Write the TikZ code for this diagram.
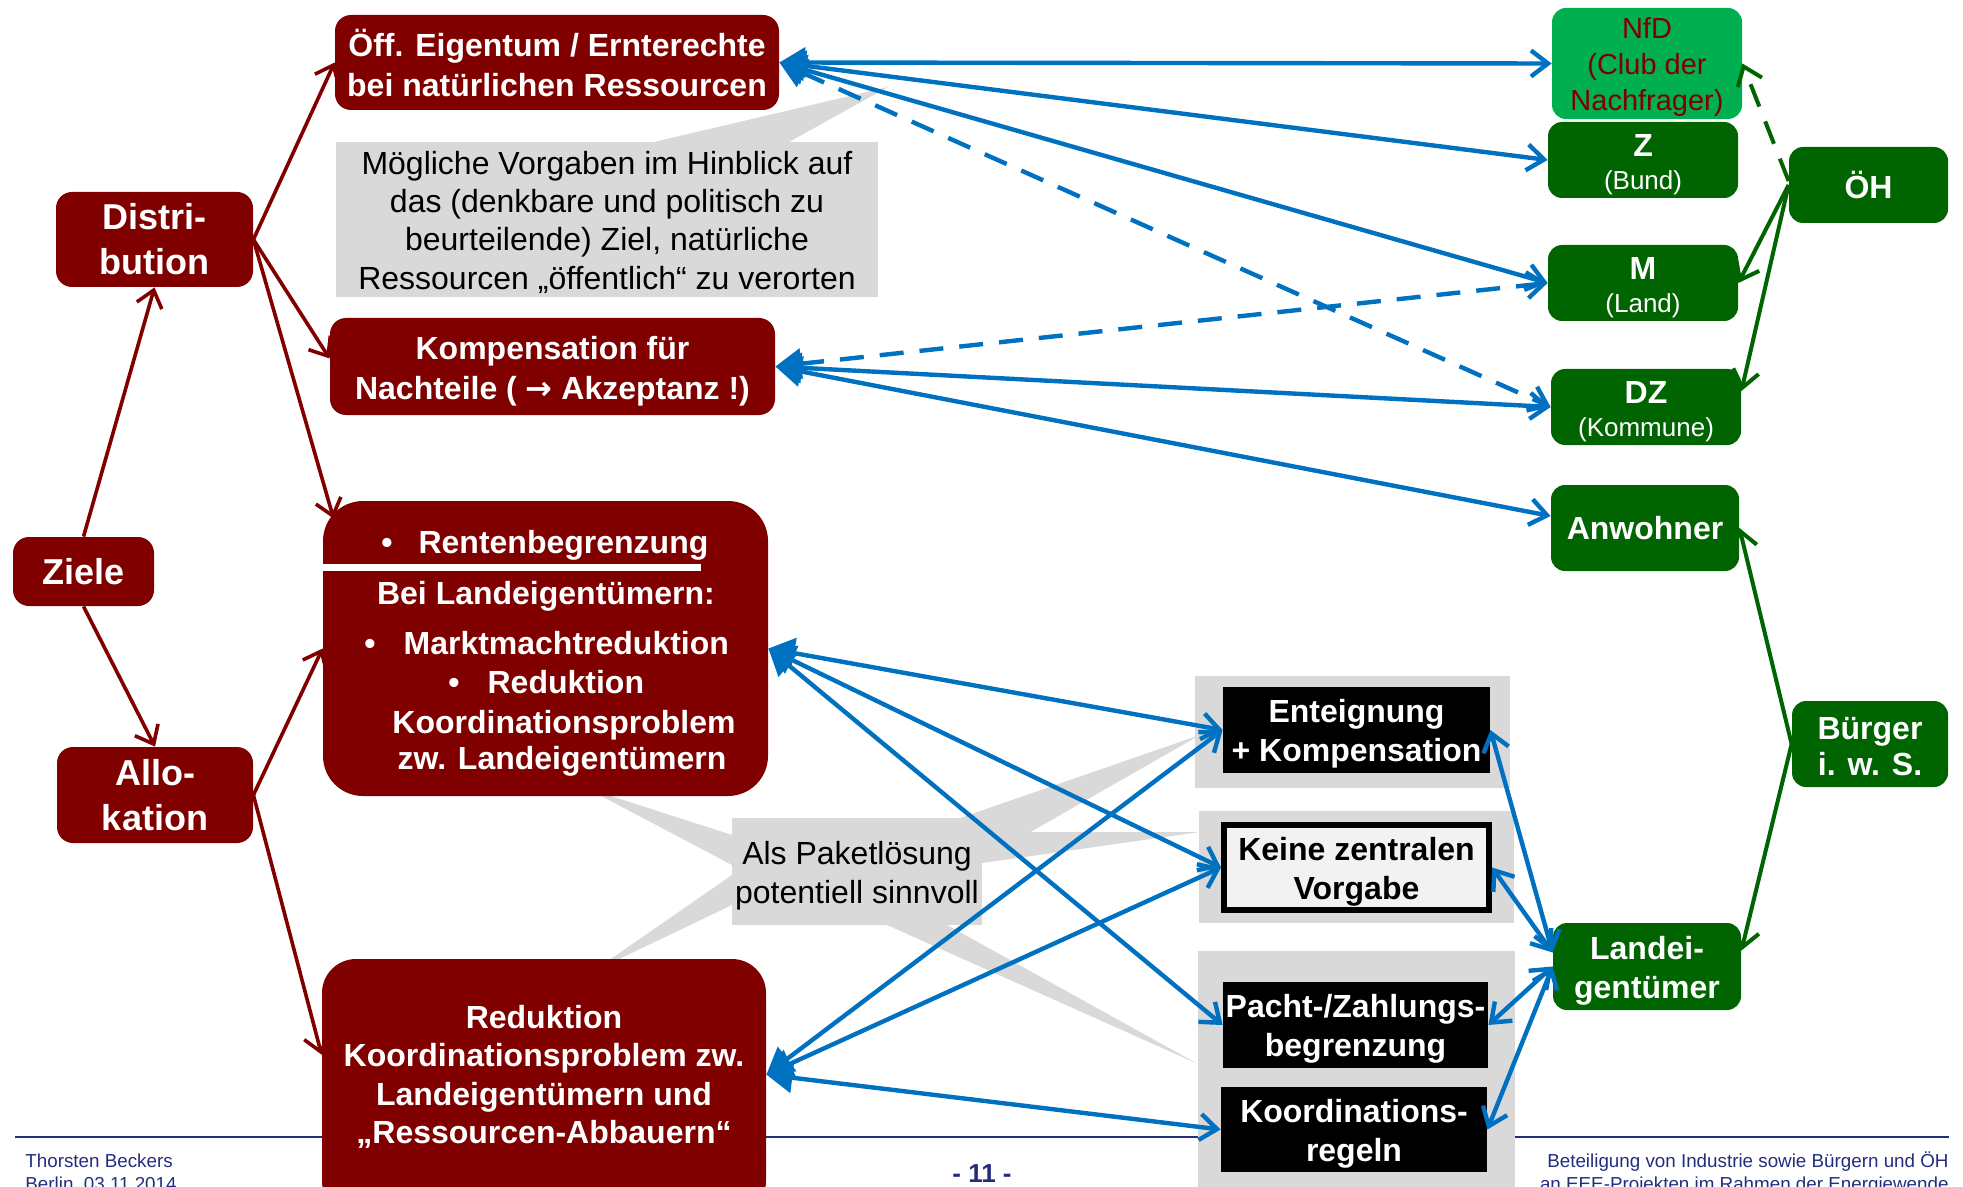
\documentclass[tikz,border=0pt]{standalone}
\usepackage{fontspec}
\setmainfont{Liberation Sans}
\newfontfamily\djv{DejaVu Sans}
\usetikzlibrary{arrows.meta,calc}
\newcommand\sdn[1]{\rule{0pt}{#1}}
\definecolor{mr}{RGB}{128,0,0}
\definecolor{gd}{RGB}{0,100,0}
\definecolor{lg}{RGB}{0,176,80}
\definecolor{bl}{RGB}{0,112,192}
\definecolor{cg}{RGB}{217,217,217}
\definecolor{kg}{RGB}{242,242,242}
\definecolor{navy}{RGB}{35,45,125}
\tikzset{
  mbox/.style={fill=mr, rounded corners=8pt, text=white, font=\bfseries\fontsize{16}{20}\selectfont, align=center, inner sep=0pt},
  bigf/.style={font=\bfseries\fontsize{18}{22.5}\selectfont},
  gbox/.style={fill=gd, rounded corners=7pt, text=white, align=center, inner sep=0pt, font=\bfseries\fontsize{16}{19.5}\selectfont},
  kbox/.style={fill=black, text=white, font=\bfseries\fontsize{16}{19.5}\selectfont, align=center, inner sep=0pt},
  cgray/.style={fill=cg, inner sep=0pt, align=center, font=\fontsize{16}{19.2}\selectfont},
  txt/.style={inner sep=0pt, text=white, font=\bfseries\fontsize{16}{19.2}\selectfont, text height=14pt, text depth=2.5pt},
  foot/.style={inner sep=0pt, text=navy, font=\fontsize{9.4}{11}\selectfont},
  marr/.style={draw=mr, line width=1.8pt, -{Straight Barb[length=8pt,width=13pt]}},
  barr/.style={draw=bl, line width=2.2pt, {Triangle[length=13pt,width=15pt]}-{Straight Barb[length=8.5pt,width=13pt]}},
  bvv/.style={draw=bl, line width=2.2pt, {Straight Barb[length=8.5pt,width=13pt]}-{Straight Barb[length=8.5pt,width=13pt]}},
  garr/.style={draw=gd, line width=2pt, -{Straight Barb[length=8.5pt,width=13pt]}},
  dsh/.style={dash pattern=on 12pt off 8pt}
}
\begin{document}
\begin{tikzpicture}[x=0.5pt,y=-0.5pt]
\useasboundingbox (0,0) rectangle (1963,1187);
% footer rule
\draw[draw=navy, line width=1.4pt] (15,1137) -- (1949,1137);
% callout pointers
\fill[cg] (654,142) -- (888,87) -- (789,142) -- cycle;
\fill[cg] (732,835) -- (586,788) -- (732,865) -- cycle;
\fill[cg] (732,875) -- (592,972) -- (732,905) -- cycle;
\fill[cg] (960,818) -- (1200,735) -- (1027,834) -- (982,834) -- cycle;
\fill[cg] (982,832) -- (1200,832) -- (982,863) -- cycle;
\fill[cg] (887,925) -- (1198,1064) -- (947,925) -- cycle;
% callouts
\node[cgray, minimum width=271pt, minimum height=77.5pt] (callA) at (607,219.5) {\sdn{14.2pt}Mögliche Vorgaben im Hinblick auf\\das (denkbare und politisch zu\\beurteilende) Ziel, natürliche\\Ressourcen „öffentlich“ zu verorten};
\node[cgray, minimum width=125pt, minimum height=53.5pt] (callB) at (857,871.5) {\sdn{16pt}Als Paketlösung\\potentiell sinnvoll};
% grey backgrounds
\node[cgray, minimum width=157.5pt, minimum height=56pt] (bgA) at (1352.5,732) {};
\node[cgray, minimum width=157.5pt, minimum height=56pt] (bgB) at (1356.5,867) {};
\node[cgray, minimum width=158.5pt, minimum height=124.5pt] (bgC) at (1356.5,1075.5) {};
% maroon boxes
\node[mbox, bigf, minimum width=70.5pt, minimum height=34.5pt] (ziele) at (83.5,571.5) {Ziele};
\node[mbox, bigf, minimum width=98.5pt, minimum height=47.5pt] (distr) at (154.5,239.5) {Distri-\\bution};
\node[mbox, bigf, minimum width=98pt, minimum height=48pt] (allok) at (155,795) {Allo-\\kation};
\node[mbox, minimum width=222pt, minimum height=47.5pt] (oeff) at (557,62.5) {Öff. Eigentum / Ernterechte\\bei natürlichen Ressourcen};
\node[mbox, minimum width=222.5pt, minimum height=48.5pt] (komp) at (552.5,366.5) {\sdn{16pt}Kompensation für\\Nachteile ( {\djv\bfseries →} Akzeptanz !)};
\node[mbox, rounded corners=20pt, minimum width=222.5pt, minimum height=147.5pt] (rente) at (545.5,648.5) {};
\fill[white] (323,563.5) rectangle (701,571);
\node[txt, anchor=west] (r1) at (381,542) {•\hspace{13pt}Rentenbegrenzung};
\node[txt] (r2) at (546,593) {Bei Landeigentümern:};
\node[txt, anchor=west] (r3) at (364,643) {•\hspace{14pt}Marktmachtreduktion};
\node[txt, anchor=west] (r4) at (448,682) {•\hspace{14pt}Reduktion};
\node[txt] (r5) at (564,722) {Koordinationsproblem};
\node[txt] (r6) at (562,758) {zw. Landeigentümern};
\node[mbox, rounded corners=17pt, minimum width=222pt, minimum height=128pt] (redu) at (544,1087) {};
\node[txt, align=center, text height=, text depth=] (redutxt) at (544,1077) {Reduktion\\Koordinationsproblem zw.\\Landeigentümern und\\„Ressourcen-Abbauern“};
% green boxes
\node[gbox, fill=lg, text=mr, font=\fontsize{14.5}{18}\selectfont, minimum width=95pt, minimum height=55.5pt] (nfd) at (1647,63.5) {\sdn{14.5pt}NfD\\(Club der\\Nachfrager)};
\node[gbox, font=\fontsize{16}{16.5}\selectfont, minimum width=95pt, minimum height=38pt] (z) at (1643,160) {\sdn{16pt}\textbf{Z}\\{\fontsize{13}{16.5}\selectfont (Bund)}};
\node[gbox, font=\fontsize{16}{16.5}\selectfont, minimum width=95pt, minimum height=38pt] (m) at (1643,283) {\sdn{16pt}\textbf{M}\\{\fontsize{13}{16.5}\selectfont (Land)}};
\node[gbox, font=\fontsize{16}{16.5}\selectfont, minimum width=95pt, minimum height=38pt] (dz) at (1646,407) {\sdn{16pt}\textbf{DZ}\\{\fontsize{13}{16.5}\selectfont (Kommune)}};
\node[gbox, minimum width=94pt, minimum height=43pt] (anw) at (1645,528) {Anwohner};
\node[gbox, minimum width=79.5pt, minimum height=38pt] (oeh) at (1868.5,185) {ÖH};
\node[gbox, font=\bfseries\fontsize{16}{18}\selectfont, minimum width=78pt, minimum height=43pt] (buer) at (1870,744) {\sdn{13.5pt}Bürger\\i. w. S.};
\node[gbox, minimum width=94pt, minimum height=43.5pt] (land) at (1647,966.5) {\sdn{15.5pt}Landei-\\gentümer};
% black boxes
\node[kbox, minimum width=133.5pt, minimum height=43pt] (ent) at (1356.5,730) {\sdn{15.5pt}Enteignung\\+ Kompensation};
\node[kbox, fill=kg, draw=black, line width=3pt, text=black, minimum width=132.5pt, minimum height=42.5pt] (keine) at (1356.5,867.5) {\sdn{15.5pt}Keine zentralen\\Vorgabe};
\node[kbox, minimum width=132.5pt, minimum height=43pt] (pacht) at (1355.5,1025) {\sdn{15.5pt}Pacht-/Zahlungs-\\begrenzung};
\node[kbox, minimum width=133pt, minimum height=42.5pt] (koord) at (1354,1129.5) {\sdn{15.5pt}Koordinations-\\regeln};
% maroon arrows
\draw[marr] (ziele.north) -- (distr.south);
\draw[marr] (ziele.south) -- (allok.north);
\draw[marr] (distr.east) -- (oeff.west);
\draw[marr] (distr.east) -- ([yshift=4pt]komp.west);
\draw[marr] (distr.east) -- ($(rente.north west)+(11,18)$);
\draw[marr] (allok.east) -- (rente.west);
\draw[marr] (allok.east) -- ($(redu.north west)+(0,96)$);
% blue arrows
\draw[barr] (oeff.east) -- (nfd.west);
\draw[barr] (oeff.east) -- (z.west);
\draw[barr] (oeff.east) -- (m.west);
\draw[barr,dsh] (oeff.east) -- (dz.west);
\draw[barr,dsh] (komp.east) -- (m.west);
\draw[barr] (komp.east) -- (dz.west);
\draw[barr] (komp.east) -- ([yshift=6pt]anw.west);
\draw[barr] (rente.east) -- (ent.west);
\draw[barr] (rente.east) -- (keine.west);
\draw[barr] (rente.east) -- (pacht.west);
\coordinate (redE) at ($(redu.north east)+(0,116)$);
\draw[barr] (redE) -- (ent.west);
\draw[barr] (redE) -- (keine.west);
\draw[barr] (redE) -- (koord.west);
\coordinate (landW) at ([yshift=7pt]land.west);
\draw[bvv] (ent.east) -- (landW);
\draw[bvv] (keine.east) -- (landW);
\draw[bvv] (pacht.east) -- (land.west);
\draw[bvv] (koord.east) -- (land.west);
% green arrows
\draw[garr,dsh] ([yshift=2pt]oeh.west) -- (nfd.east);
\draw[garr] (oeh.west) -- (m.east);
\draw[garr] (oeh.west) -- ([yshift=8pt]dz.east);
\draw[garr] (buer.west) -- (anw.east);
\draw[garr] (buer.west) -- ([yshift=8pt]land.east);
% footer
\node[foot, anchor=base west] (ft1) at (25,1167) {Thorsten Beckers};
\node[foot, anchor=base west] (ft2) at (25,1190) {Berlin, 03.11.2014};
\node[inner sep=0pt, anchor=base, text=navy, font=\bfseries\fontsize{13}{15}\selectfont] (pg) at (982,1182) {- 11 -};
\node[foot, anchor=base east] (ft3) at (1949,1167) {Beteiligung von Industrie sowie Bürgern und ÖH};
\node[foot, anchor=base east] (ft4) at (1949,1190) {an EEE-Projekten im Rahmen der Energiewende};
\end{tikzpicture}
\end{document}
